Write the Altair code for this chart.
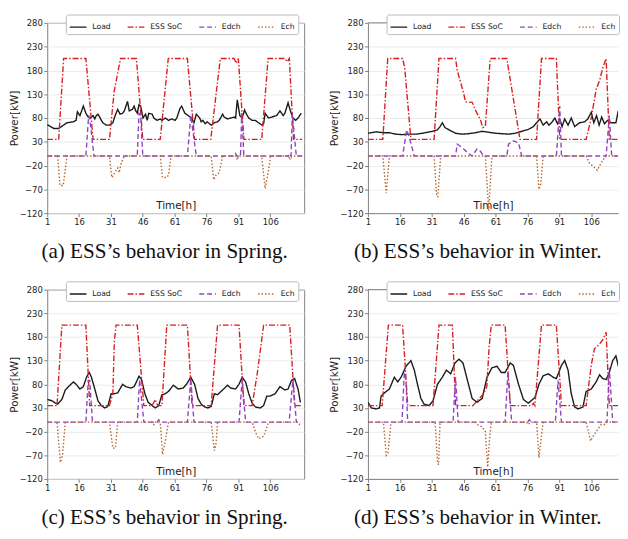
import altair as alt
import pandas as pd

NAMES = ["Load", "ESS SoC", "Edch", "Ech"]
COLORS = ["#1a1a1a", "#d91e1e", "#8e44c0", "#b5652e"]
DASHES = [[1, 0], [6, 2, 1.5, 2], [5, 3], [1.5, 2]]
X_TICKS = [1, 16, 31, 46, 61, 76, 91, 106]
Y_TICKS = [-120, -70, -20, 30, 80, 130, 180, 230, 280]
CAPTIONS = ["(a) ESS’s behavior in Spring.", "(b) ESS’s behavior in Winter.",
            "(c) ESS’s behavior in Spring.", "(d) ESS’s behavior in Winter."]

# ---------------- panel (a) ----------------
a_load_x = [1.0, 4.1, 6.4, 10.3, 13.3, 14.6, 15.2, 16.4, 18.0, 19.2, 20.3, 21.4, 22.6, 23.4, 24.1, 24.9, 25.7, 26.5,
            27.2, 28.8, 30.3, 31.9, 32.6, 33.4, 34.2, 35.3, 36.5, 37.3, 38.8, 39.6, 41.1, 41.9, 42.7, 43.4, 44.2, 45.0,
            46.1, 47.3, 48.1, 48.8, 50.4, 51.2, 52.7, 54.2, 55.0, 56.6, 58.1, 59.6, 61.2, 62.0, 63.5, 64.3, 65.8, 67.4,
            68.9, 70.1, 71.2, 72.8, 73.5, 74.3, 75.4, 76.3, 78.2, 79.7, 81.2, 82.0, 83.6, 84.3, 85.9, 87.4, 89.0, 89.7,
            90.5, 91.7, 92.8, 93.9, 94.8, 95.9, 97.5, 99.0, 100.5, 102.1, 102.9, 103.6, 105.2, 106.7, 109.0, 110.6,
            112.1, 112.9, 114.4, 115.5, 116.7, 118.0, 119.1, 120.6]
a_load_y = [66, 58, 58, 70, 72, 75, 93, 85, 105, 90, 82, 80, 85, 78, 85, 88, 82, 75,
            70, 65, 65, 70, 80, 90, 98, 88, 90, 95, 115, 95, 98, 105, 95, 90, 108, 105,
            80, 88, 75, 90, 88, 80, 75, 78, 75, 80, 75, 78, 75, 80, 100, 105, 90, 85,
            80, 70, 88, 80, 72, 75, 68, 72, 65, 70, 72, 75, 88, 82, 78, 80, 82, 80,
            118, 85, 80, 97, 88, 80, 75, 75, 70, 65, 68, 90, 80, 82, 85, 95,
            85, 90, 112, 95, 80, 75, 80, 90]
a_soc_x = [1, 6.4, 8.7, 19.2, 22.6, 30.3, 32.5, 35.5, 43, 46, 54.2, 58, 67, 70.4, 78, 82.5, 89, 90, 91, 93.6,
           102, 105, 113, 114, 115, 117, 121]
a_soc_y = [35, 35, 205, 205, 35, 35, 135, 205, 205, 35, 35, 205, 205, 35, 35, 205, 205, 195, 205, 35,
           35, 205, 205, 198, 205, 35, 35]
a_edch_x = [1, 19.2, 20.5, 21, 23, 43.4, 44.2, 45, 46, 67, 68.6, 71.2, 89, 89.7, 90.3, 92, 92.6, 93.6,
            114.5, 115.2, 115.8, 116.4, 118.3, 121]
a_edch_y = [0, 0, 85, 80, 0, 0, 90, 85, 0, 0, 85, 0, 0, 5, 0, 0, 90, 0,
            0, 5, 0, 88, 0, 0]
a_ech_x = [1, 5.9, 7.0, 8.5, 10.3, 30.3, 31.4, 33.4, 34.2, 34.9, 35.8, 37.3, 54.2, 55.3, 57.3, 58.1, 59.3,
           78.2, 79.4, 80.5, 82, 83.6, 90, 90.5, 91, 102, 103.6, 105.2, 106.2, 114.7, 115.2, 115.7, 121]
a_ech_y = [0, 0, -62, -62, 0, 0, -45, -30, -25, -35, -15, 0, 0, -45, -45, -40, 0,
           0, -50, -40, -35, 0, 0, -8, 0, 0, -68, -30, 0, 0, -8, 0, 0]

# ---------------- panel (b) ----------------
b_load_x = [1, 4.9, 8, 11.1, 14.2, 17.3, 20.4, 23.6, 26.7, 29, 31.3, 33.7, 34.9, 36, 37.2, 39.1, 42.2, 45.3,
            48.4, 51.5, 54.7, 57.8, 60.9, 64, 67.1, 70.2, 73.3, 76.4, 78.8, 80.3, 81.9, 83.4, 85, 86.1, 87.3,
            88.9, 90.1, 91.2, 92.3, 93.5, 95.1, 96.6, 98.2, 100.5, 102.9, 104.4, 106, 107.2, 108.5, 109.7,
            110.9, 112.2, 113.7, 115.3, 117.6, 118.7, 120]
b_load_y = [48, 51, 49, 49, 46, 45, 46, 46, 48, 50, 52, 55, 62, 70, 60, 55, 48, 46,
            47, 49, 52, 50, 48, 47, 46, 48, 52, 56, 62, 70, 78, 65, 72, 65, 70,
            80, 68, 78, 62, 78, 65, 80, 62, 70, 72, 78, 92, 70, 85, 65,
            82, 68, 75, 70, 70, 95, 65]
b_soc_x = [1, 8, 10.3, 17.3, 18.3, 21.2, 32.1, 34.4, 42.2, 43, 44.5, 45.6, 46.9, 50, 51.5, 53.9, 55, 56.2,
           58.5, 66.3, 72.5, 80.3, 82.6, 89.6, 91.2, 103.6, 106, 108.3, 110, 111.4, 113, 114.5, 120]
b_soc_y = [35, 35, 205, 205, 185, 35, 35, 205, 205, 180, 156, 139, 114, 113, 97, 76, 60, 62,
           205, 205, 35, 35, 205, 205, 35, 35, 80, 140, 160, 185, 205, 35, 35]
b_edch_x = [1, 17.3, 19.2, 20.4, 22.8, 42.2, 43, 44.5, 46, 48.4, 50, 52.3, 53.9, 55.4, 66.3, 67.1, 69.4,
            71.8, 73.3, 89.6, 91.2, 92, 113, 114.5, 115.6, 120]
b_edch_y = [0, 0, 55, 40, 0, 0, 25, 20, 15, 5, 0, 15, 10, 0, 0, 25, 32,
            28, 0, 0, 105, 0, 0, 85, 0, 0]
b_ech_x = [1, 8, 9.6, 11.1, 32.1, 33.3, 33.9, 35.2, 56.2, 57.8, 58.5, 59.3, 80.3, 81.4, 82.2, 83.4,
           103.6, 105.2, 107, 108.8, 110.6, 112, 113, 120]
b_ech_y = [0, 0, -78, 0, 0, -85, -85, 0, 0, -115, -60, 0, 0, -70, -60, 0,
           0, -15, -22, -30, -15, -5, 0, 0]

# ---------------- panel (c) ----------------
c_load_x = [1, 3.3, 4.9, 5.9, 7.9, 9.5, 11, 13.3, 14.6, 16.4, 18, 19.5, 20.8, 21.8, 23.4, 24.9, 26.5, 28,
            29.5, 31.1, 32.6, 34.2, 36.5, 38, 40.4, 41.9, 43, 44.2, 45.4, 47, 48.5, 50.4, 51.9, 53.5, 55,
            56.6, 58.1, 60.4, 62.7, 65, 66.6, 68.6, 70.4, 72, 73.5, 75.1, 76.6, 78.2, 79.7, 81.2, 83.6, 85.9,
            87.4, 89.7, 91.3, 92.8, 94.4, 95.9, 97.5, 99, 101.3, 102.9, 104.4, 105.9, 108.3, 110.6, 112.9,
            114.4, 116, 117.5, 119.1, 120.2]
c_load_y = [48, 45, 40, 38, 48, 68, 75, 85, 80, 70, 75, 95, 105, 95, 70, 45, 35, 30,
            33, 60, 60, 62, 80, 75, 72, 75, 85, 97, 90, 60, 42, 35, 30, 35, 58,
            60, 65, 78, 70, 72, 80, 95, 80, 50, 38, 32, 30, 33, 60, 58, 68, 78,
            72, 70, 80, 95, 85, 60, 40, 32, 30, 35, 55, 55, 60, 75, 68,
            70, 88, 92, 70, 42]
c_soc_x = [1, 5.6, 7.9, 19.2, 21, 30.3, 31.9, 32.6, 33.4, 43.4, 46.5, 50.4, 51.9, 53, 55, 57.3, 67, 69.2,
           78.2, 81.2, 91.3, 93.6, 97.5, 99.8, 101.3, 102.9, 115.2, 117.5, 120.5]
c_soc_y = [35, 35, 205, 205, 35, 35, 60, 170, 205, 205, 35, 35, 48, 35, 35, 205, 205, 35,
           35, 205, 205, 35, 35, 100, 150, 205, 205, 35, 35]
c_edch_x = [1, 19.2, 20.3, 21, 22.3, 43.4, 44.5, 46.5, 52.8, 53.5, 54.2, 67, 68.6, 70.1, 91.3, 92.8, 94.4,
            114.9, 116.7, 118.3, 120.5]
c_edch_y = [0, 0, 88, 88, 0, 0, 90, 0, 0, 5, 0, 0, 92, 0, 0, 90, 0,
            0, 90, 0, 0]
c_ech_x = [1, 5.6, 7.2, 8.2, 9.5, 30.3, 31.9, 33.1, 34.2, 50.6, 51.2, 51.8, 54.2, 55.3, 56.6, 58.1, 78.2,
           79.7, 80.5, 81.2, 97.5, 99, 100.5, 102.9, 104.1, 105.2, 119.2, 119.8, 120.5]
c_ech_y = [0, 0, -85, -70, 0, 0, -55, -55, 0, 0, -5, 0, 0, -68, -40, 0, 0,
           -60, -45, 0, 0, -20, -35, -30, -15, 0, 0, -5, -5]

# ---------------- panel (d) ----------------
d_load_x = [1, 2.6, 4.9, 6.4, 7.2, 8.8, 11.1, 13.4, 15, 16.6, 18.9, 21.2, 22.8, 24.3, 25.9, 27.4, 29.8, 31.6,
            33.7, 36, 37.9, 39.9, 41.9, 43.8, 45.7, 47.7, 50, 52.3, 54.7, 57, 59.3, 61.7, 63.7, 65.5, 67.9,
            69.4, 71.8, 74.1, 76.4, 79.5, 81.4, 83.4, 85.8, 88.1, 89.6, 92, 93.5, 95.1, 96.6, 98.2, 99.8, 102.1,
            103.6, 106, 108.3, 109.9, 111.4, 113, 114.5, 116.1, 117.6, 119.2, 120.3]
d_load_y = [42, 30, 28, 30, 55, 62, 70, 95, 85, 95, 118, 130, 110, 80, 50, 38, 35, 45,
            80, 95, 110, 102, 125, 133, 125, 90, 50, 42, 50, 95, 115, 118, 105, 105, 125,
            120, 80, 48, 40, 52, 80, 98, 102, 95, 92, 120, 130, 110, 60, 32, 28, 32,
            65, 70, 85, 100, 92, 90, 105, 130, 140, 110, 70]
d_soc_x = [1, 7.7, 10.6, 17.3, 19.7, 31.6, 34.4, 40.7, 42.2, 50.4, 52.3, 55.4, 56.9, 58.0, 59, 65.5, 67.9,
           78, 78.8, 79.5, 82.6, 89.6, 92, 103.6, 106, 107.5, 109.9, 111.5, 113, 114.5, 120.5]
d_soc_y = [35, 35, 205, 205, 35, 35, 205, 205, 35, 35, 45, 60, 75, 160, 205, 205, 35,
           35, 40, 35, 205, 205, 35, 35, 120, 155, 165, 175, 190, 35, 35]
d_edch_x = [1, 17, 18.1, 18.9, 19.7, 41, 42.2, 43.4, 65.5, 66.8, 68.6, 76, 76.9, 77.8, 89.1, 90.4, 92,
            113.4, 114.5, 116.1, 120.5]
d_edch_y = [0, 0, 105, 85, 0, 0, 95, 0, 0, 105, 0, 0, 5, 0, 0, 88, 0,
            0, 115, 0, 0]
d_ech_x = [1, 8.3, 9.6, 10.4, 11.9, 32.6, 33.7, 34.2, 34.9, 51.5, 52.3, 54.7, 56.2, 57.3, 58.1, 59, 75.5,
           76.4, 77.3, 80.3, 81.4, 82.3, 83.4, 103.6, 105.7, 106.8, 109.1, 110.6, 112.2, 113.4, 120.5]
d_ech_y = [0, 0, -70, -65, 0, 0, -85, -90, 0, 0, -5, -10, -20, -95, -40, 0, 0,
           -5, 0, 0, -75, -40, 0, 0, -40, -30, -15, -5, -5, 0, 0]

FRAME = "#7f7f7f"
FONT = "DejaVu Sans"


def make_df(load, soc, edch, ech):
    rows = []
    for name, (xs, ys) in zip(NAMES, [load, soc, edch, ech]):
        for i, (xv, yv) in enumerate(zip(xs, ys)):
            rows.append({"x": xv, "y": yv, "series": name, "i": i})
    return pd.DataFrame(rows)


def panel(df, caption, xmax, width, height, right):
    legend = alt.Legend(orient="none", legendX=19, legendY=-8.5, direction="horizontal", columns=4,
                        title=None, fillColor="white", strokeColor="#bbbbbb", padding=3, cornerRadius=2,
                        labelFontSize=7.8, labelFont=FONT, labelColor="#222222", symbolType="stroke",
                        symbolSize=289, symbolStrokeWidth=1.5, columnPadding=14, labelOffset=5)
    xax = alt.Axis(values=X_TICKS, title="Time[h]", titleY=-5, titleBaseline="alphabetic", grid=False,
                   domain=right, domainColor=FRAME, tickColor=FRAME, tickSize=3.5, labelPadding=1.5,
                   labelFontSize=8.6, labelFont=FONT, labelColor="#222222", titleFont=FONT,
                   titleFontSize=10.6, titleFontWeight="normal", titleColor="#222222", labelFlush=False)
    yax = alt.Axis(values=Y_TICKS, title="Power[kW]", grid=True, gridColor="#e6e6e6", gridWidth=0.8,
                   domain=right, domainColor=FRAME, tickColor=FRAME, tickSize=3.5, labelPadding=1.5,
                   labelFontSize=8.6, labelFont=FONT, labelColor="#222222", titleFont=FONT,
                   titleFontSize=10.6, titleFontWeight="normal", titleColor="#222222", titlePadding=0)
    lines = alt.Chart(df).mark_line(strokeWidth=1.4, clip=True).encode(
        x=alt.X("x:Q", scale=alt.Scale(domain=[1, xmax], nice=False, zero=False), axis=xax),
        y=alt.Y("y:Q", scale=alt.Scale(domain=[-120, 280], nice=False, zero=False), axis=yax),
        color=alt.Color("series:N", scale=alt.Scale(domain=NAMES, range=COLORS), legend=legend, sort=NAMES),
        strokeDash=alt.StrokeDash("series:N", scale=alt.Scale(domain=NAMES, range=DASHES), legend=legend,
                                  sort=NAMES),
        order="i:Q",
    )
    layers = [lines]
    if right:
        top = alt.Chart(pd.DataFrame({"k": [0]})).mark_rule(color=FRAME, strokeWidth=1).encode(
            x=alt.value(0), x2=alt.value(width), y=alt.value(0))
        layers.append(top)
        view = alt.ViewBackground(stroke="transparent")
        dx = 3
    else:
        view = alt.ViewBackground(stroke=FRAME, strokeWidth=1)
        dx = 8
    return alt.layer(*layers).properties(
        width=width, height=height, view=view,
        title=alt.TitleParams(text=caption, orient="bottom", anchor="middle", frame="bounds",
                              font="Liberation Serif", fontSize=21.5, fontWeight="normal",
                              color="#111111", offset=15, dx=dx),
    )


pa = panel(make_df((a_load_x, a_load_y), (a_soc_x, a_soc_y), (a_edch_x, a_edch_y), (a_ech_x, a_ech_y)),
           CAPTIONS[0], 122, 262, 194, False)
pb = panel(make_df((b_load_x, b_load_y), (b_soc_x, b_soc_y), (b_edch_x, b_edch_y), (b_ech_x, b_ech_y)),
           CAPTIONS[1], 118.6, 255, 194, True)
pc = panel(make_df((c_load_x, c_load_y), (c_soc_x, c_soc_y), (c_edch_x, c_edch_y), (c_ech_x, c_ech_y)),
           CAPTIONS[2], 122, 262, 193, False)
pd_ = panel(make_df((d_load_x, d_load_y), (d_soc_x, d_soc_y), (d_edch_x, d_edch_y), (d_ech_x, d_ech_y)),
            CAPTIONS[3], 118.6, 255, 193, True)

row1 = alt.hconcat(pa, pb, spacing=24).resolve_scale(color="independent", strokeDash="independent")
row2 = alt.hconcat(pc, pd_, spacing=24).resolve_scale(color="independent", strokeDash="independent")
chart = alt.vconcat(row1, row2, spacing=17).resolve_scale(color="independent", strokeDash="independent")
chart = chart.configure(padding=0).configure_view(strokeWidth=1)

chart.save("out.html", embed_options={"renderer": "svg", "actions": False})
